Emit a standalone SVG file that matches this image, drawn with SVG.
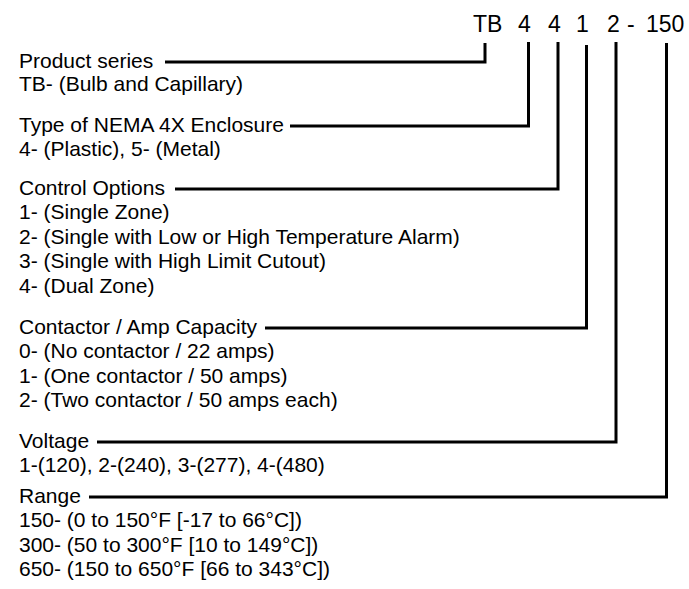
<svg xmlns="http://www.w3.org/2000/svg" width="689" height="589" viewBox="0 0 689 589">
<style>
  text { font-family: "Liberation Sans", Arial, sans-serif; fill: #000; }
  .lbl { font-size: 21px; }
  .code { font-size: 23px; }
  .conn { fill: none; stroke: #000; stroke-width: 3; stroke-linejoin: miter; stroke-linecap: butt; }
</style>
<rect width="689" height="589" fill="#fff"/>
<g id="code">
  <text class="code" y="32"><tspan x="473">TB</tspan><tspan x="518">4</tspan><tspan x="548">4</tspan><tspan x="576">1</tspan><tspan x="607">2</tspan><tspan x="627">-</tspan><tspan x="646">150</tspan></text>
</g>
<g id="product-series" class="lbl">
  <text x="19" y="67.5">Product series</text>
  <text x="19" y="91">TB- (Bulb and Capillary)</text>
</g>
<g id="enclosure" class="lbl">
  <text x="19" y="131.5">Type of NEMA 4X Enclosure</text>
  <text x="19" y="156">4- (Plastic), 5- (Metal)</text>
</g>
<g id="control-options" class="lbl">
  <text x="19" y="194.5">Control Options</text>
  <text x="19" y="219">1- (Single Zone)</text>
  <text x="19" y="243.5">2- (Single with Low or High Temperature Alarm)</text>
  <text x="19" y="268">3- (Single with High Limit Cutout)</text>
  <text x="19" y="292.5">4- (Dual Zone)</text>
</g>
<g id="contactor" class="lbl">
  <text x="19" y="333.5">Contactor / Amp Capacity</text>
  <text x="19" y="358">0- (No contactor / 22 amps)</text>
  <text x="19" y="382.5">1- (One contactor / 50 amps)</text>
  <text x="19" y="407">2- (Two contactor / 50 amps each)</text>
</g>
<g id="voltage" class="lbl">
  <text x="19" y="447.5">Voltage</text>
  <text x="19" y="472">1-(120), 2-(240), 3-(277), 4-(480)</text>
</g>
<g id="range" class="lbl">
  <text x="19" y="502.5">Range</text>
  <text x="19" y="527">150- (0 to 150°F [-17 to 66°C])</text>
  <text x="19" y="551.5">300- (50 to 300°F [10 to 149°C])</text>
  <text x="19" y="576">650- (150 to 650°F [66 to 343°C])</text>
</g>
<g id="connectors">
  <path class="conn" d="M165 62 H485 V43"/>
  <path class="conn" d="M290 126 H528.5 V42"/>
  <path class="conn" d="M175 189 H558 V42"/>
  <path class="conn" d="M265 328 H586.5 V45"/>
  <path class="conn" d="M97 442 H616 V42"/>
  <path class="conn" d="M89 497 H666.5 V43"/>
</g>
</svg>
